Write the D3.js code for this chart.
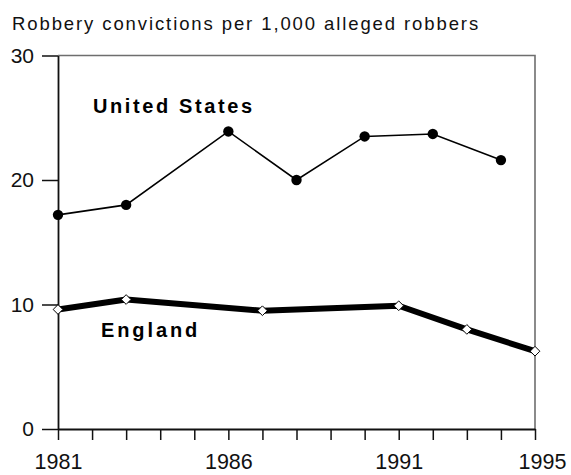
<!DOCTYPE html>
<html>
<head>
<meta charset="utf-8">
<script src="https://cdn.jsdelivr.net/npm/d3@7"></script>
<style>
  html, body { margin: 0; padding: 0; background: #fff; }
  svg { display: block; font-family: "Liberation Sans", Arial, sans-serif; }
</style>
</head>
<body>
<svg id="chart" width="571" height="475"></svg>
<script>
// Robbery convictions per 1,000 alleged robbers
const usYears = [1981, 1983, 1986, 1988, 1990, 1992, 1994];
const usValues = [17.2, 18.0, 23.9, 20.0, 23.5, 23.7, 21.6];
const engYears = [1981, 1983, 1987, 1991, 1993, 1995];
const engValues = [9.6, 10.4, 9.5, 9.9, 8.0, 6.25];
const yTicks = [0, 10, 20, 30];
const xTicks = d3.range(1981, 1996);
const xLabels = [1981, 1986, 1991, 1995];

const svg = d3.select("#chart");
const plot = { left: 58, right: 535, top: 55.5, bottom: 429 };

const x = d3.scaleLinear().domain([1981, 1995]).range([plot.left, plot.right]);
const y = d3.scaleLinear().domain([0, 30]).range([plot.bottom, plot.top]);

// Title
svg.append("text")
  .attr("x", 12).attr("y", 29.5)
  .attr("font-size", 18.5)
  .attr("letter-spacing", 1.9)
  .attr("fill", "#111")
  .text("Robbery convictions per 1,000 alleged robbers");

// Top and right frame lines
svg.append("path")
  .attr("d", `M${plot.left},${plot.top}H${plot.right}V${plot.bottom}`)
  .attr("fill", "none")
  .attr("stroke", "#6e6e6e")
  .attr("stroke-width", 1.6);

// Y axis
const yAxis = svg.append("g")
  .attr("transform", `translate(${plot.left},0)`)
  .call(d3.axisLeft(y).tickValues(yTicks).tickSize(16).tickSizeOuter(0).tickPadding(8).tickFormat(d3.format("d")));
yAxis.select(".domain").attr("stroke", "#111").attr("stroke-width", 1.8);
yAxis.selectAll(".tick line").attr("stroke", "#111").attr("stroke-width", 1.5);
yAxis.selectAll(".tick text").attr("font-size", 21).attr("fill", "#111")
  .attr("font-family", "Liberation Sans, Arial, sans-serif");

// X axis
const xAxis = svg.append("g")
  .attr("transform", `translate(0,${plot.bottom})`)
  .call(d3.axisBottom(x).tickValues(xTicks).tickSize(11).tickSizeOuter(0).tickPadding(14)
    .tickFormat(d => xLabels.includes(d) ? String(d) : ""));
xAxis.select(".domain").attr("stroke", "#111").attr("stroke-width", 1.8);
xAxis.selectAll(".tick line").attr("stroke", "#111").attr("stroke-width", 1.5);
xAxis.selectAll(".tick text").attr("font-size", 21.5).attr("fill", "#111")
  .attr("font-family", "Liberation Sans, Arial, sans-serif")
  .attr("dx", d => d === 1995 ? 7 : 0);

// United States series
const usData = usYears.map((yr, i) => ({ yr, v: usValues[i] }));
const line = d3.line().x(d => x(d.yr)).y(d => y(d.v));
svg.append("path")
  .datum(usData)
  .attr("d", line)
  .attr("fill", "none")
  .attr("stroke", "#000")
  .attr("stroke-width", 1.6);
svg.append("g").selectAll("circle")
  .data(usData)
  .join("circle")
  .attr("cx", d => x(d.yr))
  .attr("cy", d => y(d.v))
  .attr("r", 5.2)
  .attr("fill", "#000");

// England series
const engData = engYears.map((yr, i) => ({ yr, v: engValues[i] }));
svg.append("path")
  .datum(engData)
  .attr("d", line)
  .attr("fill", "none")
  .attr("stroke", "#000")
  .attr("stroke-width", 6)
  .attr("stroke-linejoin", "round");
const diamond = d3.symbol().type(d3.symbolDiamond2).size(60);
svg.append("g").selectAll("path")
  .data(engData)
  .join("path")
  .attr("transform", d => `translate(${x(d.yr)},${y(d.v)})`)
  .attr("d", diamond)
  .attr("fill", "#fff")
  .attr("stroke", "#000")
  .attr("stroke-width", 1);

// Series labels
svg.append("text")
  .attr("x", 93).attr("y", 112.5)
  .attr("font-size", 20).attr("font-weight", "bold")
  .attr("letter-spacing", 2.6)
  .attr("fill", "#000")
  .text("United States");
svg.append("text")
  .attr("x", 101).attr("y", 337)
  .attr("font-size", 20).attr("font-weight", "bold")
  .attr("letter-spacing", 2.9)
  .attr("fill", "#000")
  .text("England");
</script>
</body>
</html>
